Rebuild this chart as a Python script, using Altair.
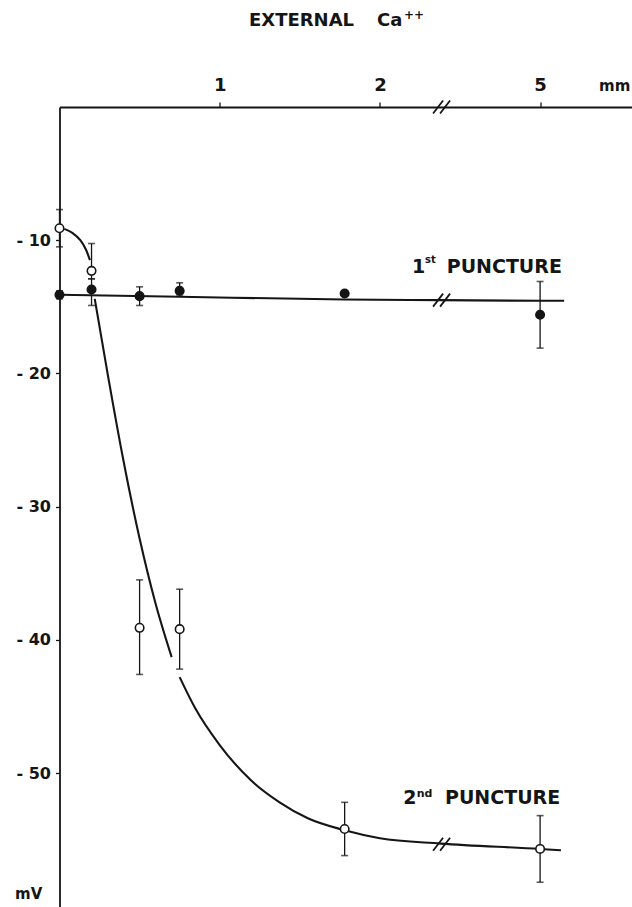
import altair as alt
import pandas as pd

# ---------------- data ----------------
conc = [0, 0.2, 0.5, 0.75, 1.78, 5]                      # external Ca++ (mM)
first_mean = [-14.1, -13.7, -14.2, -13.8, -14.0, -15.6]  # 1st puncture (mV)
first_hi = [-13.8, -12.9, -13.5, -13.2, -13.8, -13.1]
first_lo = [-14.4, -14.9, -14.9, -14.2, -14.2, -18.1]
second_mean = [-9.1, -12.3, -39.1, -39.2, -54.2, -55.7]  # 2nd puncture (mV)
second_hi = [-7.7, -10.25, -35.5, -36.2, -52.2, -53.2]
second_lo = [-10.5, -12.9, -42.6, -42.2, -56.2, -58.2]

# hand-drawn curves
curve1_c = [0, 0.75, 1.78, 2.38, 5.0, 6.5]
curve1_v = [-14.1, -14.25, -14.45, -14.5, -14.55, -14.55]
curve2a_c = [0.03, 0.08, 0.13, 0.165, 0.19]
curve2a_v = [-9.15, -9.45, -10.0, -10.7, -11.5]
curve2b_c = [0.22, 0.30, 0.40, 0.50, 0.60, 0.70]
curve2b_v = [-14.4, -20.0, -26.6, -32.4, -37.3, -41.3]
curve2c_c = [0.75, 0.85, 1.0, 1.2, 1.374, 1.55, 1.78, 2.0, 2.38, 5.0, 6.3]
curve2c_v = [-42.8, -45.2, -47.9, -50.6, -52.2, -53.4, -54.3, -54.9, -55.3, -55.7, -55.8]

x_ticks = [1, 2, 5]
y_ticks = [-10, -20, -30, -40, -50]
BREAK_AT = 2.38          # axis is broken after this concentration
break_levels = [0.0, -14.5, -55.35]   # axis line, 1st curve, 2nd curve

# ---------------- broken-axis mapping ----------------
def pos(c):
    return c if c <= BREAK_AT else 3 + (c - 5) * 0.1

POS_EXPR = f"datum.c <= {BREAK_AT} ? datum.c : 3 + (datum.c - 5) * 0.1"

INK = "#151515"
FONT = "DejaVu Sans"
PX_X = 160.2   # px per x unit
PX_Y = 13.32   # px per mV

xscale = alt.Scale(domain=[0, 572.5 / PX_X], nice=False, zero=False)
yscale = alt.Scale(domain=[-800 / PX_Y, 0], nice=False, zero=False)

tick_pos = [pos(t) for t in x_ticks]
label_expr = " : ".join(
    [f"datum.value == {p} ? '{t}'" for p, t in zip(tick_pos, x_ticks)] + ["''"]
)
xaxis = alt.Axis(orient="top", values=tick_pos, labelExpr=label_expr, title=None,
                 grid=False, tickSize=5, tickColor=INK, tickWidth=1.3,
                 domainColor=INK, domainWidth=1.8, labelPadding=12,
                 labelBaseline="alphabetic", labelFont=FONT, labelFontSize=18,
                 labelFontWeight="bold", labelColor=INK)
yaxis = alt.Axis(orient="left", values=y_ticks, labelExpr="'- ' + abs(datum.value)",
                 title=None, grid=False, tickSize=4, tickColor=INK, tickWidth=1.3,
                 domainColor=INK, domainWidth=1.8, labelPadding=5,
                 labelFont=FONT, labelFontSize=16, labelFontWeight="bold",
                 labelColor=INK)


def X(f="pos"):
    return alt.X(f"{f}:Q", scale=xscale, axis=xaxis)


def Y(f):
    return alt.Y(f"{f}:Q", scale=yscale, axis=yaxis)


# ---------------- tables ----------------
curves = pd.concat([
    pd.DataFrame({"c": curve1_c, "v": curve1_v, "seg": "1"}),
    pd.DataFrame({"c": curve2a_c, "v": curve2a_v, "seg": "2a"}),
    pd.DataFrame({"c": curve2b_c, "v": curve2b_v, "seg": "2b"}),
    pd.DataFrame({"c": curve2c_c, "v": curve2c_v, "seg": "2c"}),
])

pts = pd.concat([
    pd.DataFrame({"c": conc, "m": first_mean, "lo": first_lo, "hi": first_hi, "series": "first"}),
    pd.DataFrame({"c": conc, "m": second_mean, "lo": second_lo, "hi": second_hi, "series": "second"}),
])

# break marks: two short slanted strokes
dx, dy, off = 5 / PX_X, 6.5 / PX_Y, 3.5 / PX_X
brk_rows = []
for lvl in break_levels:
    for o in (-off, off):
        bp = pos(BREAK_AT) + 0.005
        brk_rows.append({"x1": bp + o - dx, "y1": lvl - dy, "x2": bp + o + dx, "y2": lvl + dy})
breaks = pd.DataFrame(brk_rows)

# ---------------- layers ----------------
lines = alt.Chart(curves).transform_calculate(pos=POS_EXPR).mark_line(
    interpolate="monotone", color=INK, strokeWidth=2.1
).encode(x=X(), y=Y("v"), detail="seg:N")

brk = alt.Chart(breaks).mark_rule(color=INK, strokeWidth=1.8).encode(
    x=X("x1"), y=Y("y1"), x2="x2:Q", y2="y2:Q")

err = alt.Chart(pts).transform_calculate(pos=POS_EXPR).mark_rule(
    color=INK, strokeWidth=1.3).encode(x=X(), y=Y("lo"), y2="hi:Q")

caps = alt.Chart(pts).transform_calculate(pos=POS_EXPR).transform_fold(
    ["lo", "hi"], as_=["end", "ev"]).mark_tick(
    orient="horizontal", size=7, thickness=1.6, color=INK).encode(x=X(), y=Y("ev"))

dots = alt.Chart(pts).transform_calculate(pos=POS_EXPR).mark_circle(
    size=72, stroke=INK, strokeWidth=1.6, opacity=1).encode(
    x=X(), y=Y("m"),
    fill=alt.Fill("series:N", scale=alt.Scale(domain=["first", "second"], range=[INK, "white"]),
                  legend=None))


def label(text, x, y, size, align="left"):
    return alt.Chart(pd.DataFrame({"t": [text]})).mark_text(
        text=text, align=align, baseline="alphabetic", font=FONT, fontSize=size,
        fontWeight="bold", color=INK).encode(x=alt.value(x), y=alt.value(y))


texts = [
    label("EXTERNAL", 242, -81, 18, align="center"),
    label("Ca", 317.5, -81, 18),
    label("++", 344.5, -88, 12),
    label("mm", 539.5, -16, 15),
    label("1", 352.5, 165.7, 19),
    label("st", 365.5, 156.3, 10),
    label("PUNCTURE", 387.2, 165.7, 19),
    label("2", 343.8, 697, 19),
    label("nd", 357.2, 689.7, 11),
    label("PUNCTURE", 385.5, 697, 19),
    label("mV", -44.5, 792, 15),
]

chart = alt.layer(lines, brk, err, caps, dots, *texts).properties(
    width=572.5, height=800,
    autosize=alt.AutoSizeParams(type="none"),
    padding={"left": 59.5, "top": 107, "right": 0, "bottom": 0},
    background="white",
).configure_view(stroke=None)

chart.save("out.html", embed_options={"renderer": "svg", "actions": False})
